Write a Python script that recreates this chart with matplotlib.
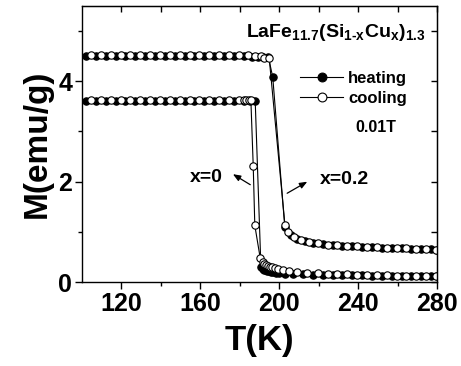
import matplotlib.pyplot as plt

plt.rcParams['font.family'] = ['Liberation Sans', 'DejaVu Sans']
plt.rcParams['font.weight'] = 'bold'
plt.rcParams['mathtext.fontset'] = 'custom'
plt.rcParams['mathtext.bf'] = 'Liberation Sans:bold'
plt.rcParams['mathtext.rm'] = 'Liberation Sans:bold'

# x = 0.2, heating
t_h02 = [102, 107, 112, 117, 122, 127, 132, 137, 142, 147, 152, 157, 162, 167, 172, 177, 182,
         186, 189, 192, 194.5, 196.7, 202.8, 205.8, 209, 213, 217, 222, 227, 232, 237, 242,
         247, 252, 257, 262, 267, 272, 277, 280]
m_h02 = [4.51, 4.51, 4.51, 4.51, 4.51, 4.51, 4.50, 4.50, 4.50, 4.50, 4.50, 4.50, 4.50, 4.50, 4.50,
         4.50, 4.50, 4.49, 4.49, 4.49, 4.48, 4.08, 1.10, 0.93, 0.86, 0.81, 0.78, 0.76, 0.74, 0.73,
         0.72, 0.71, 0.70, 0.69, 0.69, 0.68, 0.67, 0.67, 0.66, 0.65]

# x = 0.2, cooling
t_c02 = [104.5, 109.5, 114.5, 119.5, 124.5, 129.5, 134.5, 139.5, 144.5, 149.5, 154.5, 159.5,
         164.5, 169.5, 174.5, 179.5, 184, 187.5, 190.5, 192.5, 194.9, 202.9, 204.5, 207.5, 211,
         215, 219.5, 224.5, 229.5, 234.5, 239.5, 244.5, 249.5, 254.5, 259.5, 264.5, 269.5, 274.5,
         279.5]
m_c02 = [4.53, 4.53, 4.53, 4.53, 4.53, 4.53, 4.53, 4.53, 4.53, 4.53, 4.53, 4.53, 4.53, 4.53, 4.53,
         4.53, 4.52, 4.51, 4.50, 4.47, 4.46, 1.13, 1.00, 0.90, 0.84, 0.80, 0.77, 0.75, 0.74, 0.73,
         0.72, 0.71, 0.70, 0.69, 0.68, 0.68, 0.67, 0.66, 0.65]

# x = 0, heating
t_h0 = [102, 107, 112, 117, 122, 127, 132, 137, 142, 147, 152, 157, 162, 167, 172, 177, 182,
        185, 187.8, 190.7, 191.5, 192.3, 193.1, 194, 195, 196, 197, 198.5, 200, 203, 207, 212,
        217, 222, 227, 232, 237, 242, 247, 252, 257, 262, 267, 272, 277, 280]
m_h0 = [3.61, 3.61, 3.61, 3.61, 3.61, 3.61, 3.61, 3.61, 3.61, 3.61, 3.61, 3.61, 3.61, 3.61, 3.61,
        3.61, 3.61, 3.61, 3.61, 0.30, 0.27, 0.25, 0.24, 0.23, 0.22, 0.21, 0.20, 0.19, 0.18, 0.17,
        0.16, 0.16, 0.15, 0.15, 0.15, 0.14, 0.14, 0.14, 0.13, 0.13, 0.13, 0.13, 0.12, 0.12, 0.12,
        0.12]

# x = 0, cooling
t_c0 = [104.5, 109.5, 114.5, 119.5, 124.5, 129.5, 134.5, 139.5, 144.5, 149.5, 154.5, 159.5,
        164.5, 169.5, 174.5, 179.5, 182, 183.3, 184.5, 185.6, 186.8, 187.6, 190.3, 191.5, 192.5,
        193.5, 194.5, 195.5, 196.5, 198, 199.5, 202, 205, 209, 214, 219.5, 224.5, 229.5, 234.5,
        239.5, 244.5, 249.5, 254.5, 259.5, 264.5, 269.5, 274.5, 279.5]
m_c0 = [3.63, 3.63, 3.63, 3.63, 3.63, 3.63, 3.63, 3.63, 3.63, 3.63, 3.63, 3.63, 3.63, 3.63, 3.63,
        3.63, 3.63, 3.63, 3.63, 3.63, 2.31, 1.13, 0.49, 0.40, 0.37, 0.35, 0.33, 0.31, 0.30, 0.28,
        0.27, 0.25, 0.23, 0.21, 0.19, 0.18, 0.17, 0.16, 0.16, 0.15, 0.15, 0.14, 0.14, 0.13, 0.13,
        0.13, 0.12, 0.12]

x_ticks = [120, 160, 200, 240, 280]
y_ticks = [0, 2, 4]

fig = plt.figure(figsize=(4.61, 3.66), dpi=100)
ax = fig.add_axes([0.178, 0.229, 0.770, 0.755])

filled = dict(color='black', lw=0.8, marker='o', ms=5.3, mfc='black', mec='black', mew=0.8)
hollow = dict(color='black', lw=0.8, marker='o', ms=5.3, mfc='white', mec='black', mew=0.8)

ax.plot(t_h02, m_h02, label='heating', **filled)
ax.plot(t_c02, m_c02, label='cooling', **hollow)
ax.plot(t_h0, m_h0, **filled)
ax.plot(t_c0, m_c0, **hollow)

ax.set_xlim(100, 280)
ax.set_ylim(0, 5.5)
ax.set_xticks(x_ticks)
ax.set_xticks([140, 180, 220, 260], minor=True)
ax.set_yticks(y_ticks)
ax.set_yticks([1, 3, 5], minor=True)
ax.tick_params(which='major', direction='out', length=5, width=1, labelsize=18, pad=2)
ax.tick_params(which='minor', direction='out', length=3, width=1)
for lab in ax.get_xticklabels() + ax.get_yticklabels():
    lab.set_fontweight('bold')
for sp in ax.spines.values():
    sp.set_linewidth(1)

# mirrored ticks pointing inward on top and right
top = ax.secondary_xaxis('top')
top.set_xticks(x_ticks)
top.set_xticks([140, 180, 220, 260], minor=True)
top.tick_params(which='both', direction='in', length=4, width=1, labeltop=False)
right = ax.secondary_yaxis('right')
right.set_yticks(y_ticks)
right.set_yticks([1, 3, 5], minor=True)
right.tick_params(which='both', direction='in', length=4, width=1, labelright=False)

ax.set_xlabel('T(K)', fontsize=25, fontweight='bold', labelpad=6)
ax.set_ylabel('M(emu/g)', fontsize=24, fontweight='bold', labelpad=4)

ax.text(183.0, 4.88, r'$\mathbf{LaFe_{11.7}(Si_{1\text{-}x}Cu_x)_{1.3}}$', fontsize=14,
        ha='left', va='baseline')
ax.text(249.2, 3.07, '0.01T', fontsize=11.5, fontweight='bold', ha='center', va='center')
ax.text(163.2, 2.09, 'x=0', fontsize=14, fontweight='bold', ha='center', va='center')
ax.text(232.8, 2.05, 'x=0.2', fontsize=14, fontweight='bold', ha='center', va='center')
arrow = dict(arrowstyle='-|>,head_length=0.45,head_width=0.18', color='black', lw=0.9,
             shrinkA=0, shrinkB=0)
ax.annotate('', xy=(176.5, 2.15), xytext=(185.3, 1.94), arrowprops=arrow)
ax.annotate('', xy=(214.2, 2.00), xytext=(204.0, 1.77), arrowprops=arrow)

leg = ax.legend(loc='upper left', bbox_to_anchor=(0.614, 0.765), frameon=False,
                prop=dict(size=12, weight='bold'), handlelength=2.6, handletextpad=0.3,
                labelspacing=0.3, borderpad=0, borderaxespad=0, markerscale=1.2)

fig.savefig('out.png', dpi=100)
